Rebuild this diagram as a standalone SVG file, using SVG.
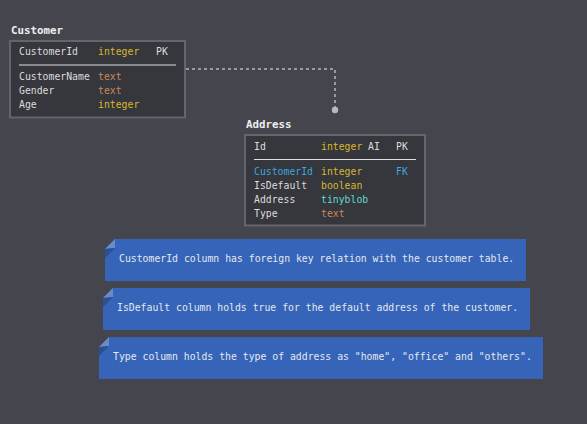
<svg xmlns="http://www.w3.org/2000/svg" width="587" height="424" viewBox="0 0 587 424">
<style>
.t{font-family:"DejaVu Sans Mono","Liberation Mono",monospace;font-size:9.8px;fill:#dcdcdc}
.title{font-family:"DejaVu Sans Mono","Liberation Mono",monospace;font-size:10.8px;font-weight:bold;fill:#eeeeee}
.box{fill:#36363d;stroke:#65656d;stroke-width:2}
.sep{stroke:#e0e0e0;stroke-width:1.2}
.y{fill:#d9b82b}
.o{fill:#c8895a}
.c{fill:#5fdccb}
.b{fill:#3ea4dc}
.note{fill:#3664b8}
.fl{fill:#6a8ac8}
.fd{fill:#2a4f92}
.nt{font-family:"DejaVu Sans Mono","Liberation Mono",monospace;font-size:9.8px;fill:#e4e8f0}
</style>
<rect width="587" height="424" fill="#45454d"/>
<g id="connectors">
<path d="M186 69 H335 V110" fill="none" stroke="#9a9aa2" stroke-width="2" stroke-dasharray="3 3"/>
<circle cx="335" cy="110" r="3.2" fill="#b8b8be"/>
</g>
<g id="customer">
<text class="title" x="11" y="34">Customer</text>
<rect class="box" x="10" y="41" width="175" height="76.5"/>
<text class="t" x="19" y="55">CustomerId</text><text class="t y" x="98" y="55">integer</text><text class="t" x="156" y="55">PK</text>
<line class="sep" x1="19" y1="65" x2="176" y2="65"/>
<text class="t" x="19" y="80">CustomerName</text><text class="t o" x="98" y="80">text</text>
<text class="t" x="19" y="94">Gender</text><text class="t o" x="98" y="94">text</text>
<text class="t" x="19" y="108">Age</text><text class="t y" x="98" y="108">integer</text>
</g>
<g id="address">
<text class="title" x="246" y="128">Address</text>
<rect class="box" x="245" y="135" width="180" height="90.5"/>
<text class="t" x="254" y="150">Id</text><text class="t y" x="321" y="150">integer</text><text class="t" x="368" y="150">AI</text><text class="t" x="396" y="150">PK</text>
<line class="sep" x1="254" y1="159.5" x2="416" y2="159.5"/>
<text class="t b" x="254" y="174.5">CustomerId</text><text class="t y" x="321" y="174.5">integer</text><text class="t b" x="396" y="174.5">FK</text>
<text class="t" x="254" y="188.5">IsDefault</text><text class="t y" x="321" y="188.5">boolean</text>
<text class="t" x="254" y="202.5">Address</text><text class="t c" x="321" y="202.5">tinyblob</text>
<text class="t" x="254" y="216.5">Type</text><text class="t o" x="321" y="216.5">text</text>
</g>
<g id="note1">
<path class="note" d="M115 239 H526 V281 H105 V249 Z"/>
<path class="fl" d="M105 249 L115 239 V248 Z"/>
<path class="fd" d="M105 249 L115 248 L105 258 Z"/>
<text class="nt" x="119" y="262">CustomerId column has foreign key relation with the customer table.</text>
</g>
<g id="note2">
<path class="note" d="M113 288 H530 V330 H103 V298 Z"/>
<path class="fl" d="M103 298 L113 288 V297 Z"/>
<path class="fd" d="M103 298 L113 297 L103 307 Z"/>
<text class="nt" x="117" y="311">IsDefault column holds true for the default address of the customer.</text>
</g>
<g id="note3">
<path class="note" d="M109 337 H543 V379 H99 V347 Z"/>
<path class="fl" d="M99 347 L109 337 V346 Z"/>
<path class="fd" d="M99 347 L109 346 L99 356 Z"/>
<text class="nt" x="113" y="360">Type column holds the type of address as "home", "office" and "others".</text>
</g>
</svg>
